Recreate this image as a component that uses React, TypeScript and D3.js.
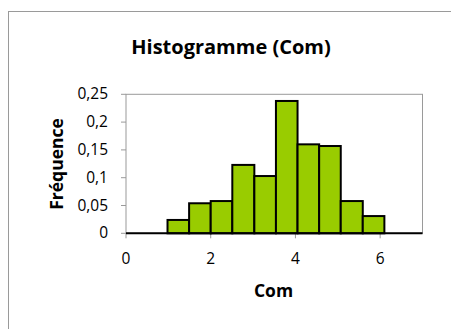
import React from 'react';
import * as d3 from 'd3';

const binEdges = [0.98, 1.49, 2.0, 2.51, 3.03, 3.54, 4.05, 4.56, 5.07, 5.59, 6.1];
const frequencies = [0.024, 0.054, 0.058, 0.123, 0.103, 0.238, 0.16, 0.157, 0.058, 0.031];
const xTicks = [0, 2, 4, 6];
const yTicks = [0, 0.05, 0.1, 0.15, 0.2, 0.25];

const W = 451;
const H = 329;
const plot = { left: 126, right: 422.5, top: 94.3, bottom: 233.3 };
const font = '"Open Sans", "Liberation Sans", sans-serif';

const App: React.FC = () => {
  const x = d3.scaleLinear().domain([0, 7]).range([plot.left, plot.right]);
  const y = d3.scaleLinear().domain([0, 0.25]).range([plot.bottom, plot.top]);
  const fmt = (v: number) => String(v).replace('.', ',');

  return (
    <svg width={W} height={H} style={{ position: 'absolute', left: 0, top: 0 }}>
      <rect x={0} y={0} width={W} height={H} fill="#fff" />
      <rect x={8.5} y={11.5} width={460} height={340} fill="#fff" stroke="#9a9a9a" />
      <text x={231} y={54} textAnchor="middle" fontFamily={font} fontWeight="bold" fontSize={20}>
        Histogramme (Com)
      </text>
      {/* plot area */}
      <rect x={plot.left} y={plot.top} width={plot.right - plot.left} height={plot.bottom - plot.top}
        fill="#fff" stroke="#9a9a9a" />
      {yTicks.map(t => (
        <g key={t}>
          <line x1={plot.left - 5} x2={plot.left} y1={y(t)} y2={y(t)} stroke="#9a9a9a" />
          <text x={108} y={y(t) + 5} textAnchor="end" fontFamily={font} fontSize={15.5}>{fmt(t)}</text>
        </g>
      ))}
      {xTicks.map(t => (
        <g key={t}>
          <line x1={x(t)} x2={x(t)} y1={plot.bottom} y2={plot.bottom + 5} stroke="#9a9a9a" />
          <text x={x(t)} y={263.5} textAnchor="middle" fontFamily={font} fontSize={15.5}>{t}</text>
        </g>
      ))}
      {frequencies.map((f, i) => (
        <rect key={i} x={x(binEdges[i])} y={y(f)} width={x(binEdges[i + 1]) - x(binEdges[i])}
          height={y(0) - y(f)} fill="#99cc00" stroke="#000" strokeWidth={2} />
      ))}
      <line x1={x(0)} x2={x(7)} y1={y(0)} y2={y(0)} stroke="#000" strokeWidth={2} />
      <text transform={`translate(63,164) rotate(-90)`} textAnchor="middle" fontFamily={font}
        fontWeight="bold" fontSize={17.5}>Fréquence</text>
      <text x={273.5} y={297} textAnchor="middle" fontFamily={font} fontWeight="bold" fontSize={17.5}>Com</text>
    </svg>
  );
};

export default App;
